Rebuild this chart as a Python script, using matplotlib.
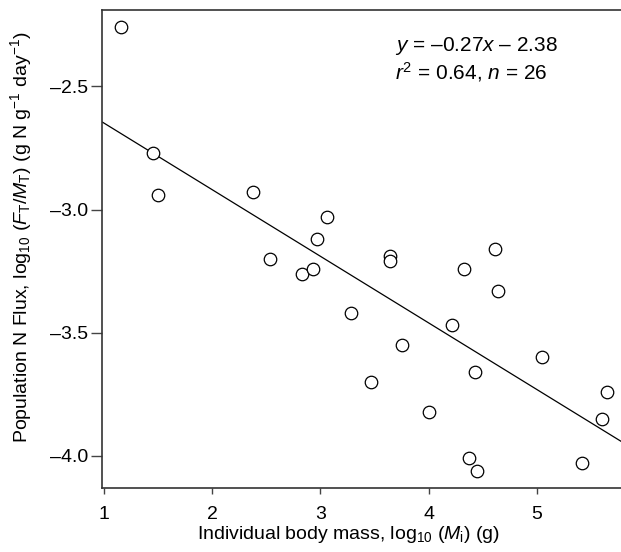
import matplotlib.pyplot as plt
import numpy as np

plt.rcParams['font.family'] = ['Liberation Sans', 'DejaVu Sans']
plt.rcParams['mathtext.fontset'] = 'custom'
plt.rcParams['mathtext.rm'] = 'Liberation Sans'
plt.rcParams['mathtext.it'] = 'Liberation Sans:italic'

# log10 body mass (g) and log10 population N flux
body_mass = [1.15, 1.45, 1.50, 2.38, 2.53, 2.83, 2.93, 2.97, 3.06, 3.28,
             3.47, 3.64, 3.64, 3.75, 4.00, 4.22, 4.33, 4.37, 4.43, 4.45,
             4.61, 4.64, 5.05, 5.42, 5.60, 5.65]
n_flux = [-2.26, -2.77, -2.94, -2.93, -3.20, -3.26, -3.24, -3.12, -3.03, -3.42,
          -3.70, -3.19, -3.21, -3.55, -3.82, -3.47, -3.24, -4.01, -3.66, -4.06,
          -3.16, -3.33, -3.60, -4.03, -3.85, -3.74]
slope, intercept = -0.27, -2.38

x_ticks = [1, 2, 3, 4, 5]
y_ticks = [-2.5, -3.0, -3.5, -4.0]
xlim = (0.983, 5.78)
ylim = (-4.13, -2.19)

fig = plt.figure(figsize=(6.21, 5.52), dpi=100)
ax = fig.add_axes([0.165, 0.116, 0.835, 0.866])

# regression line across the whole x range, then the open circles
xs = np.array(xlim)
ax.plot(xs, slope * xs + intercept, color='black', lw=0.9)
ax.plot(body_mass, n_flux, 'o', ms=9, mfc='white', mec='black', mew=0.9)

ax.set_xlim(*xlim)
ax.set_ylim(*ylim)
ax.set_xticks(x_ticks)
ax.set_yticks(y_ticks)
ax.set_yticklabels([f'\u2013{abs(v):.1f}' for v in y_ticks])
ax.tick_params(direction='out', width=1, labelsize=14, color='#444444')
ax.tick_params(axis='y', length=8, pad=2)
ax.tick_params(axis='x', length=4, pad=9)
for side in ['left', 'bottom', 'top']:
    ax.spines[side].set_linewidth(1.2)
    ax.spines[side].set_color('#333333')
ax.spines['right'].set_visible(False)

ax.set_xlabel('Individual body mass, log$_{10}$ ($M_\\mathrm{i}$) (g)', fontsize=14, labelpad=1)
ax.set_ylabel('Population N Flux, log$_{10}$ ($F_\\mathrm{T}$/$M_\\mathrm{T}$) (g N g$^{-1}$ day$^{-1}$)',
              fontsize=14, labelpad=12)
ax.xaxis.label.set_x(0.474)
ax.yaxis.label.set_y(0.525)

ax.text(0.565, 0.925, '$y$ = \u20130.27$x$ \u2013 2.38', transform=ax.transAxes,
        fontsize=15, va='center')
ax.text(0.565, 0.870, '$r^2$ = 0.64, $n$ = 26', transform=ax.transAxes,
        fontsize=15, va='center')

fig.savefig('out.png', dpi=100)
